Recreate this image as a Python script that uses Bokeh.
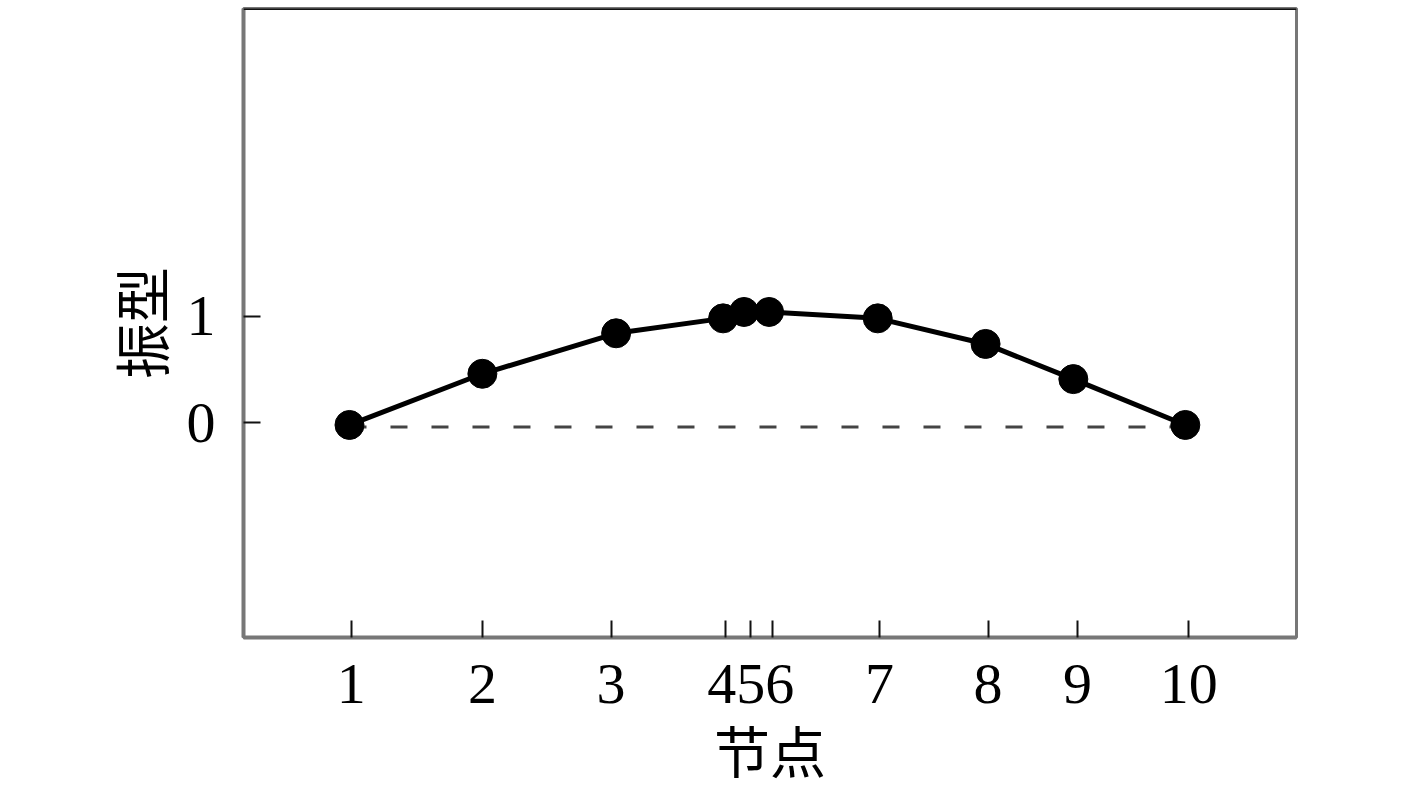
from bokeh.plotting import figure
from bokeh.models import Range1d, FixedTicker, Span
from bokeh.embed import file_html
from bokeh.resources import INLINE

# ---- data ----
node_pos = [0.00, 1.59, 3.19, 4.47, 4.72, 5.02, 6.32, 7.61, 8.66, 10.00]   # node positions along the structure
mode_shape = [-0.02, 0.46, 0.84, 0.98, 1.04, 1.04, 0.98, 0.74, 0.41, -0.02]  # mode shape amplitude
tick_pos = [0.02, 1.59, 3.13, 4.50, 4.80, 5.06, 6.34, 7.64, 8.71, 10.04]
tick_labels = ["1", "2", "3", "", "456", "", "7", "8", "9", "10"]
y_ticks = [0, 1]
y_tick_labels = ["0", "1"]
baseline = -0.04
x_label = "节点"
y_label = "振型"

x_start, x_end = -1.268, 11.33
y_start, y_end = -2.014, 3.887

p = figure(width=1409, height=791, output_backend="svg", toolbar_location=None,
           x_range=Range1d(x_start, x_end), y_range=Range1d(y_start, y_end),
           min_border_left=243, min_border_right=113, min_border_top=8,
           min_border_bottom=145)

p.background_fill_color = "white"
p.border_fill_color = "white"
p.outline_line_color = "#777777"
p.outline_line_width = 3
p.xgrid.visible = False
p.ygrid.visible = False

# baseline (dashed)
p.line(x=[node_pos[0], node_pos[-1]], y=[baseline, baseline],
       line_color="#444444", line_width=3, line_dash="17 24")

# mode shape
p.line(x=node_pos, y=mode_shape, line_color="black", line_width=5)
p.scatter(x=node_pos, y=mode_shape, size=29, fill_color="black", line_color="black")

# top border darker
p.add_layout(Span(location=y_end, dimension="width", line_color="#111111", line_width=3))

# x axis
xa = p.xaxis[0]
xa.ticker = FixedTicker(ticks=tick_pos)
xa.major_label_overrides = {t: l for t, l in zip(tick_pos, tick_labels)}
xa.axis_label = x_label
# y axis
ya = p.yaxis[0]
ya.ticker = FixedTicker(ticks=y_ticks)
ya.major_label_overrides = {t: l for t, l in zip(y_ticks, y_tick_labels)}
ya.axis_label = y_label

for ax in (xa, ya):
    ax.axis_line_color = "#777777"
    ax.axis_line_width = 4
    ax.major_tick_in = 17
    ax.major_tick_out = 0
    ax.major_tick_line_color = "#111111"
    ax.major_tick_line_width = 2
    ax.minor_tick_line_color = None
    ax.major_label_text_font = "Liberation Serif"
    ax.major_label_text_font_size = "58px"
    ax.major_label_text_color = "black"
    ax.axis_label_text_font = "Noto Sans CJK SC"
    ax.axis_label_text_font_size = "56px"
    ax.axis_label_text_font_style = "normal"
    ax.axis_label_text_color = "black"

xa.major_label_standoff = 27
xa.axis_label_standoff = 2
ya.major_label_standoff = 28
ya.axis_label_standoff = 4

open("out.html", "w").write(file_html(p, INLINE))
